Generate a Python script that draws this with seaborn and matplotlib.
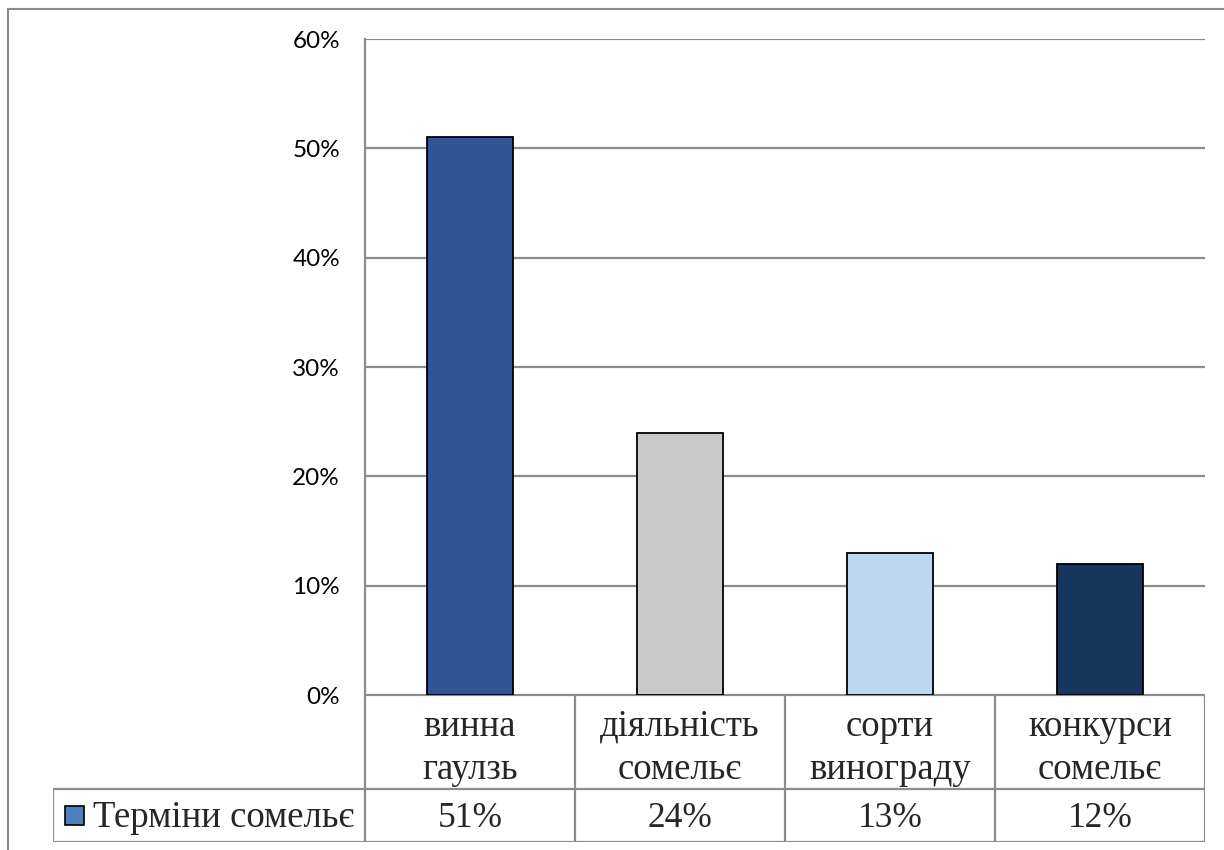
import matplotlib
matplotlib.use("Agg")
import matplotlib.pyplot as plt
import seaborn as sns
import pandas as pd
from matplotlib.patches import Rectangle
from matplotlib.lines import Line2D

# Survey data: share of sommelier terms by topic
categories = ["винна\nгаулзь", "діяльність\nсомельє", "сорти\nвинограду", "конкурси\nсомельє"]
shares = [51, 24, 13, 12]
bar_colors = ["#2F5597", "#C9C9C9", "#BDD7EE", "#17375E"]
series_name = "Терміни сомельє"
series_color = "#4F81BD"
y_ticks = [0, 10, 20, 30, 40, 50, 60]

sns.set_style("white")
plt.rcParams["font.family"] = ["Lato", "DejaVu Sans"]

W, H = 1224, 850
fig = plt.figure(figsize=(W / 100, H / 100), dpi=100)
fig.patch.set_facecolor("white")


def box(left, top, right, bottom):
    return [left / W, 1 - bottom / H, (right - left) / W, (bottom - top) / H]


grid_col = "#8C8C8C"

# Chart area frame (top and left edges)
fig.add_artist(Line2D([8 / W, 1.0], [1 - 9 / H, 1 - 9 / H], transform=fig.transFigure,
                      color="#8A8A8A", linewidth=1.5))
fig.add_artist(Line2D([8 / W, 8 / W], [1 - 9 / H, 0.0], transform=fig.transFigure,
                      color="#8A8A8A", linewidth=1.5))

# Bar plot
ax = fig.add_axes(box(365, 39, 1205, 695))
df = pd.DataFrame({"cat": categories, "share": shares})
sns.barplot(data=df, x="cat", y="share", hue="cat", palette=bar_colors, saturation=1,
            width=0.405, edgecolor="black", linewidth=1.3, legend=False, ax=ax)
ax.set_xlim(-0.5, 3.5)
ax.set_ylim(0, 60)
ax.set_yticks(y_ticks)
ax.set_yticklabels([f"{v}%" for v in y_ticks])
ax.yaxis.grid(True, color=grid_col, linewidth=1.6)
ax.set_axisbelow(True)
for s in ["top", "right", "bottom"]:
    ax.spines[s].set_visible(False)
ax.spines["left"].set_color(grid_col)
ax.spines["left"].set_linewidth(1.6)
ax.tick_params(axis="y", length=0, pad=18, labelsize=17.5, labelcolor="black")
ax.tick_params(axis="x", length=0, labelbottom=False)
ax.set_xlabel("")
ax.set_ylabel("")

# Data table under the bars
legend_w = 312 / 210
x_left = -0.5 - legend_w
tab = fig.add_axes(box(53, 695, 1205, 842))
tab.set_xlim(x_left, 3.5)
tab.set_ylim(147, 0)
tab.axis("off")
row_split = 94

lkw = dict(color=grid_col, linewidth=1.6, solid_capstyle="butt")
tab.plot([-0.5, 3.5], [0, 0], **lkw)
tab.plot([x_left, 3.5], [row_split, row_split], **lkw)
tab.plot([x_left, 3.5], [147, 147], **lkw)
tab.plot([x_left, x_left], [row_split, 147], **lkw)
for xv in [-0.5, 0.5, 1.5, 2.5, 3.5]:
    tab.plot([xv, xv], [0, 147], **lkw)

serif = ["Liberation Serif", "DejaVu Serif"]
for i, (cat, val) in enumerate(zip(categories, shares)):
    tab.text(i, 53, cat, ha="center", va="center", fontsize=26.5,
             family=serif, linespacing=1.33)
    tab.text(i, (row_split + 147) / 2 + 3, f"{val}%", ha="center", va="center",
             fontsize=25.5, family=serif)

# Series key in the table's legend cell
key_x0 = x_left + 12 / 210
key_y = (row_split + 147) / 2
tab.add_patch(Rectangle((key_x0, key_y - 9.5), 19 / 210, 19, facecolor=series_color,
                        edgecolor="black", linewidth=1.2))
tab.text(key_x0 + 28 / 210, key_y + 2, series_name, ha="left", va="center", fontsize=26.5,
         family=serif)

fig.savefig("out.png", dpi=100, facecolor="white")
